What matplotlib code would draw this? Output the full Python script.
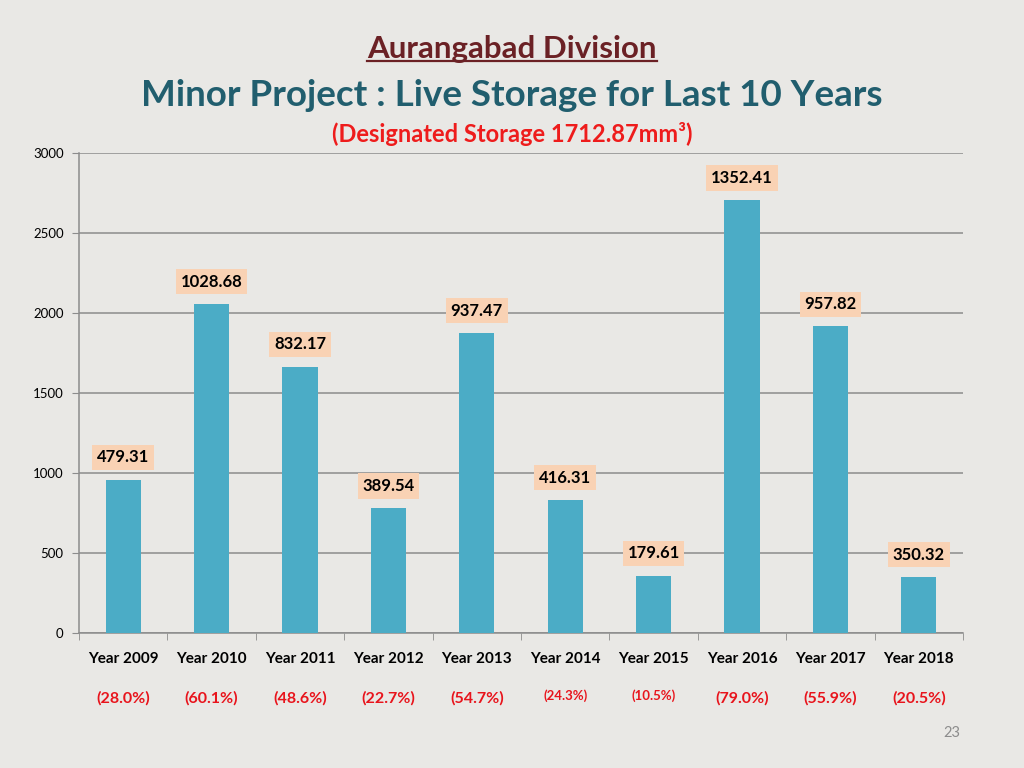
import matplotlib
matplotlib.use("Agg")
import matplotlib.pyplot as plt
from matplotlib.lines import Line2D

# chart data
years = ["Year 2009", "Year 2010", "Year 2011", "Year 2012", "Year 2013",
         "Year 2014", "Year 2015", "Year 2016", "Year 2017", "Year 2018"]
bar_heights = [958.62, 2057.36, 1664.34, 779.08, 1874.94,
               832.62, 359.22, 2704.82, 1915.64, 350.32]
value_labels = ["479.31", "1028.68", "832.17", "389.54", "937.47",
                "416.31", "179.61", "1352.41", "957.82", "350.32"]
pct_labels = ["(28.0%)", "(60.1%)", "(48.6%)", "(22.7%)", "(54.7%)",
              "(24.3%)", "(10.5%)", "(79.0%)", "(55.9%)", "(20.5%)"]
yticks = [0, 500, 1000, 1500, 2000, 2500, 3000]

bg = "#e9e8e5"
bar_col = "#4bacc6"
font = ["Lato", "DejaVu Sans"]
plt.rcParams['font.family'] = font

fig = plt.figure(figsize=(10.24, 7.68), dpi=100, facecolor=bg)
ax = fig.add_axes([79/1024, 135/768, 884/1024, 480/768])
ax.set_facecolor(bg)

x = list(range(len(years)))
ax.bar(x, bar_heights, width=0.4, color=bar_col, zorder=3)

for i, (h, lab) in enumerate(zip(bar_heights, value_labels)):
    ax.annotate(lab, (i, h), xytext=(0, 16), textcoords="offset points",
                ha="center", va="center", fontsize=12, fontweight="bold",
                color="black", zorder=5,
                bbox=dict(boxstyle="square,pad=0.28", fc="#f9d2b4", ec="none"))

ax.set_xlim(-0.5, len(years) - 0.5)
ax.set_ylim(0, 3000)
ax.set_yticks(yticks)
ax.set_yticklabels([str(t) for t in yticks], fontsize=9.5)
ax.yaxis.grid(True, color="#8c8c8c", linewidth=1.1, zorder=0)
ax.set_xticks(x)
ax.set_xticklabels(years, fontsize=11, fontweight="bold")
ax.set_xticks([i + 0.5 for i in range(-1, len(years))], minor=True)
ax.tick_params(axis="x", which="major", length=0, pad=14)
ax.tick_params(axis="x", which="minor", length=5, color="#8c8c8c")
ax.tick_params(axis="y", length=5, color="#8c8c8c", pad=6)
for s in ["top", "right"]:
    ax.spines[s].set_visible(False)
for s in ["left", "bottom"]:
    ax.spines[s].set_color("#8c8c8c")
    ax.spines[s].set_linewidth(1.1)

# percentage row under categories
for i, p in enumerate(pct_labels):
    small = p in ("(24.3%)", "(10.5%)")
    ax.annotate(p, (i, 0), xycoords=("data", "axes fraction"),
                xytext=(0, -47 if not small else -45), textcoords="offset points",
                ha="center", va="center", fontsize=9.5 if small else 11.5,
                fontweight="bold", color="#e8141c")

# titles
t1 = fig.text(0.5, 1 - 49/768, "Aurangabad Division", ha="center", va="center",
              fontsize=22.5, fontweight="bold", color="#6b2125")
fig.text(0.5, 1 - 96/768, "Minor Project : Live Storage for Last 10 Years",
         ha="center", va="center", fontsize=26.5, fontweight="bold", color="#215e6e")
fig.text(0.5, 1 - 134/768, "(Designated Storage 1712.87mm³)", ha="center",
         va="center", fontsize=17, fontweight="bold", color="#ee1c1c")
fig.text(952/1024, 1 - 733/768, "23", ha="center", va="center",
         fontsize=10.5, color="#8c8c8c")

# underline for the top heading
fig.canvas.draw()
bb = t1.get_window_extent().transformed(fig.transFigure.inverted())
fig.add_artist(Line2D([bb.x0, bb.x1], [bb.y0 + 0.002, bb.y0 + 0.002],
                      transform=fig.transFigure, color="#6b2125", linewidth=1.6))

fig.savefig("out.png", dpi=100, facecolor=bg)
